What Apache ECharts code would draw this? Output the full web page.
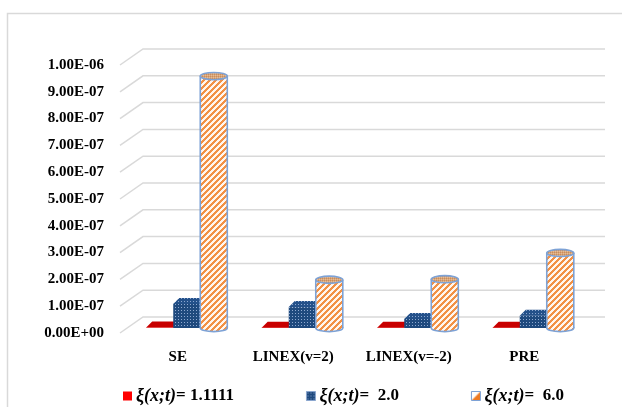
<!DOCTYPE html>
<html>
<head>
<meta charset="utf-8">
<script src="https://cdn.jsdelivr.net/npm/echarts@6/dist/echarts.min.js"></script>
<style>
  html, body { margin: 0; padding: 0; background: #fff; }
  #chart { width: 622px; height: 407px; }
</style>
</head>
<body>
<div id="chart"></div>
<script>
// Categories (loss functions) and estimator values per ξ(x;t) setting
const categories = ['SE', 'LINEX(v=2)', 'LINEX(v=-2)', 'PRE'];
const seriesNames = ['ξ(x;t)= 1.1111', 'ξ(x;t)=  2.0', 'ξ(x;t)=  6.0'];
const valuesXi1 = [1.5e-9, 1.2e-9, 1.1e-9, 1.3e-9];
const valuesXi2 = [9.0e-8, 7.8e-8, 3.4e-8, 4.6e-8];
const valuesXi6 = [9.4e-7, 1.8e-7, 1.82e-7, 2.8e-7];
const yTicks = [0, 1e-7, 2e-7, 3e-7, 4e-7, 5e-7, 6e-7, 7e-7, 8e-7, 9e-7, 1e-6];

// Oblique depth offsets for the pseudo-3D look
const WALL_DX = 23, WALL_DY = -16;   // front plane -> back wall
const BAR_DX = 7, BAR_DY = -5;       // front plane -> bar front face
const BOX_DX = 6, BOX_DY = -6;       // box depth

function makePattern(w, h, paint) {
  const c = document.createElement('canvas');
  c.width = w; c.height = h;
  paint(c.getContext('2d'), w, h);
  return { image: c, repeat: 'repeat' };
}

const navyDots = makePattern(3, 3, (g) => {
  g.fillStyle = '#1f4a7e'; g.fillRect(0, 0, 3, 3);
  g.fillStyle = '#8fa9d0'; g.fillRect(1, 1, 1, 1);
});
const navyDotsTop = makePattern(3, 3, (g) => {
  g.fillStyle = '#24518a'; g.fillRect(0, 0, 3, 3);
  g.fillStyle = '#8aa6cf'; g.fillRect(1, 1, 1, 1);
});
const orangeStripes = makePattern(6, 6, (g) => {
  for (let x = 0; x < 6; x++) {
    for (let y = 0; y < 6; y++) {
      g.fillStyle = ((x + y) % 6 < 3) ? '#f29145' : '#fff6ef';
      g.fillRect(x, y, 1, 1);
    }
  }
});
const tanTop = makePattern(2, 2, (g) => {
  g.fillStyle = '#d9a476'; g.fillRect(0, 0, 2, 2);
  g.fillStyle = '#c88c5c'; g.fillRect(0, 0, 1, 1);
  g.fillStyle = '#e6bc96'; g.fillRect(1, 1, 1, 1);
});
const legendOrange = makePattern(9, 9, (g) => {
  g.fillStyle = '#ffffff'; g.fillRect(0, 0, 9, 9);
  g.fillStyle = '#ee7a22';
  g.beginPath(); g.moveTo(9, 0); g.lineTo(9, 9); g.lineTo(0, 9); g.closePath(); g.fill();
});

const RED = '#e00000';
const CYL_EDGE = '#7da2d6';

function fmtExp(v) {
  const parts = v.toExponential(2).split('e');
  const sign = parts[1][0] === '-' ? '-' : '+';
  const digits = parts[1].replace(/[+-]/, '').padStart(2, '0');
  return parts[0] + 'E' + sign + digits;
}

// Back-wall gridlines with their diagonal stubs from the front edge
function renderWall(params, api) {
  const cs = params.coordSys;
  const y = api.coord([0, api.value(1)])[1];
  return {
    type: 'polyline',
    silent: true,
    shape: { points: [[cs.x, y], [cs.x + WALL_DX, y + WALL_DY], [cs.x + cs.width + WALL_DX, y + WALL_DY]] },
    style: { stroke: '#d9d9d9', lineWidth: 1.5, fill: null }
  };
}

function barGeometry(api, slot) {
  const i = api.value(0), v = api.value(1);
  const base = api.coord([i, 0]);
  const top = api.coord([i, v]);
  const band = api.size([1, 0])[0];
  const bw = band * 0.234;
  const left = base[0] - 1.5 * bw + 2 + BAR_DX + slot * bw;
  return { left, bw, y0: base[1] + BAR_DY, y1: top[1] + BAR_DY };
}

function makeBoxRenderer(slot, front, topFill, side) {
  return function (params, api) {
    const g = barGeometry(api, slot);
    const { left, bw, y0, y1 } = g;
    return {
      type: 'group',
      children: [
        { type: 'polygon', shape: { points: [[left + bw, y1], [left + bw + BOX_DX, y1 + BOX_DY], [left + bw + BOX_DX, y0 + BOX_DY], [left + bw, y0]] }, style: { fill: side } },
        { type: 'polygon', shape: { points: [[left, y1], [left + bw, y1], [left + bw + BOX_DX, y1 + BOX_DY], [left + BOX_DX, y1 + BOX_DY]] }, style: { fill: topFill } },
        { type: 'rect', shape: { x: left, y: y1, width: bw, height: Math.max(y0 - y1, 0) }, style: { fill: front } }
      ]
    };
  };
}

function renderCylinder(params, api) {
  const g = barGeometry(api, 2);
  const { left, bw, y0, y1 } = g;
  const cx = left + bw / 2, rx = bw / 2, ry = 3.6;
  return {
    type: 'group',
    children: [
      { type: 'ellipse', shape: { cx, cy: y0, rx, ry }, style: { fill: orangeStripes, stroke: CYL_EDGE, lineWidth: 1.6 } },
      { type: 'rect', shape: { x: left, y: y1, width: bw, height: y0 - y1 }, style: { fill: orangeStripes } },
      { type: 'line', shape: { x1: left, y1: y1, x2: left, y2: y0 }, style: { stroke: CYL_EDGE, lineWidth: 1.6 } },
      { type: 'line', shape: { x1: left + bw, y1: y1, x2: left + bw, y2: y0 }, style: { stroke: CYL_EDGE, lineWidth: 1.6 } },
      { type: 'ellipse', shape: { cx, cy: y1, rx, ry }, style: { fill: tanTop, stroke: CYL_EDGE, lineWidth: 1.6 } }
    ]
  };
}

const chart = echarts.init(document.getElementById('chart'), null, { renderer: 'canvas' });

const serifFont = '"Liberation Serif", "DejaVu Serif", serif';

chart.setOption({
  animation: false,
  backgroundColor: '#ffffff',
  graphic: [{
    type: 'rect', silent: true,
    shape: { x: 7.5, y: 13.5, width: 700, height: 500 },
    style: { fill: null, stroke: '#d9d9d9', lineWidth: 1.5 }
  }],
  grid: { left: 120, right: 40, top: 65, bottom: 74 },
  xAxis: {
    type: 'category',
    data: categories,
    axisLine: { show: false },
    axisTick: { show: false },
    splitLine: { show: false },
    axisLabel: { margin: 17, color: '#000', fontFamily: serifFont, fontWeight: 'bold', fontSize: 15 }
  },
  yAxis: {
    type: 'value',
    min: 0, max: 1e-6, interval: 1e-7,
    axisLine: { show: false },
    axisTick: { show: false },
    splitLine: { show: false },
    axisLabel: { margin: 16, color: '#000', fontFamily: serifFont, fontWeight: 'bold', fontSize: 15, formatter: fmtExp }
  },
  legend: {
    left: 118, top: 382,
    itemWidth: 9, itemHeight: 9, itemGap: 72,
    selectedMode: false,
    data: [
      { name: seriesNames[0], icon: 'rect', itemStyle: { color: '#ff0000' } },
      { name: seriesNames[1], icon: 'rect', itemStyle: { color: navyDots, borderColor: '#8aa6cf', borderWidth: 1 } },
      { name: seriesNames[2], icon: 'rect', itemStyle: { color: legendOrange, borderColor: CYL_EDGE, borderWidth: 1 } }
    ],
    formatter: function (name) {
      const k = name.indexOf('=');
      return '{i|' + name.slice(0, k) + '}{b|' + name.slice(k) + '}';
    },
    textStyle: {
      padding: [0, 0, 0, -1],
      rich: {
        i: { fontFamily: serifFont, fontStyle: 'italic', fontWeight: 'bold', fontSize: 18, color: '#000' },
        b: { fontFamily: serifFont, fontWeight: 'bold', fontSize: 17, color: '#000' }
      }
    }
  },
  series: [
    {
      type: 'custom', name: 'wall', silent: true, z: 1,
      renderItem: renderWall,
      encode: { x: 0, y: 1 },
      data: yTicks.map((v) => [0, v])
    },
    {
      type: 'custom', name: seriesNames[0], z: 2,
      itemStyle: { color: '#ff0000' },
      renderItem: makeBoxRenderer(0, RED, '#c80000', '#a00000'),
      encode: { x: 0, y: 1 },
      data: valuesXi1.map((v, i) => [i, v])
    },
    {
      type: 'custom', name: seriesNames[1], z: 3,
      itemStyle: { color: '#1f4a7e' },
      renderItem: makeBoxRenderer(1, navyDots, navyDotsTop, '#173a66'),
      encode: { x: 0, y: 1 },
      data: valuesXi2.map((v, i) => [i, v])
    },
    {
      type: 'custom', name: seriesNames[2], z: 4,
      itemStyle: { color: '#f29145' },
      renderItem: renderCylinder,
      encode: { x: 0, y: 1 },
      data: valuesXi6.map((v, i) => [i, v])
    }
  ]
});
</script>
</body>
</html>
